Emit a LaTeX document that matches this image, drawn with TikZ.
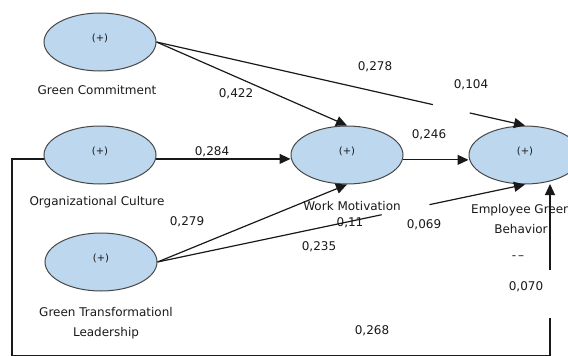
\documentclass[tikz,border=0pt]{standalone}
\usepackage{fontspec}
\setmainfont{DejaVu Sans}
\usetikzlibrary{positioning,arrows.meta,shapes.geometric,calc}
\definecolor{latentfill}{RGB}{189,215,238}
\definecolor{ink}{RGB}{25,25,25}

\begin{document}
\begin{tikzpicture}[
    x=1pt, y=-1pt,
    latent/.style={ellipse, draw=ink!80, line width=1pt, fill=latentfill, minimum width=112pt, minimum height=58pt, inner sep=0pt, text depth=8pt, font=\fontsize{10}{12}\selectfont, text=ink},
    latname/.style={inner sep=0pt, align=center, font=\fontsize{12}{19.5}\selectfont, text=ink},
    coef/.style={inner sep=0pt, font=\fontsize{12}{14}\selectfont, text=ink},
    arrow/.style={-{Triangle[length=11pt, width=10pt]}, line width=1.2pt, draw=ink},
    link/.style={line width=1.2pt, draw=ink}
]
\useasboundingbox (0,0) rectangle (568,356);
\clip (0,0) rectangle (568,356);

% Constructs
\node[latent] (gc) at (100,42) {(+)};
\node[latent] (oc) at (100,155) {(+)};
\node[latent] (gtl) at (101,262) {(+)};
\node[latent] (wm) at (347,155) {(+)};
\node[latent] (egb) at (525,155) {(+)};

% Construct names
\node[latname, below=14pt of gc, xshift=-3pt] (gcname) {Green Commitment};
\node[latname, below=12pt of oc, xshift=-3pt] (ocname) {Organizational Culture};
\node[latname, below=16pt of gtl, xshift=5pt] (gtlname) {Green Transformationl\\Leadership};
\node[latname, below=17pt of wm, xshift=5pt] (wmname) {Work Motivation};
\node[latname, below=20pt of egb, xshift=-4pt] (egbname) {Employee Green\\Behavior};

% Path coefficients
\node[coef] (c278) at (375,67) {0,278};
\node[coef] (c104) at (471,85) {0,104};
\node[coef] (c422) at (236,94) {0,422};
\node[coef] (c284) at (212,152) {0,284};
\node[coef] (c246) at (429,135) {0,246};
\node[coef] (c279) at (187,222) {0,279};
\node[coef] (c011) at (350,223) {0,11};
\node[coef] (c069) at (424,225) {0,069};
\node[coef] (c235) at (319,247) {0,235};
\node[coef] (cdash) at (518,258) {-\,–};
\node[coef] (c070) at (526,287) {0,070};
\node[coef] (c268) at (372,331) {0,268};

% Gaps in the long paths
\coordinate (gcegbA) at ($(gc.east)!0.75!(egb.north)$);
\coordinate (gcegbB) at ($(gc.east)!0.85!(egb.north)$);
\coordinate (gtlegbA) at ($(gtl.east)!0.61!(egb.south)$);
\coordinate (gtlegbB) at ($(gtl.east)!0.74!(egb.south)$);
\coordinate (loopA) at (12,355.5);
\coordinate (loopB) at (550,355.5);
\coordinate (loopC) at (550,318);
\coordinate (loopD) at (550,270);

% Arrows
\draw[arrow] (gc.east) -- (wm.north);
\draw[link] (gc.east) -- (gcegbA);
\draw[arrow] (gcegbB) -- (egb.north);
\draw[arrow] (oc.-4) -- (oc.-4 -| wm.west);
\draw[arrow] (wm.-5) -- (wm.-5 -| egb.west);
\draw[arrow] (gtl.east) -- (wm.south);
\draw[link] (gtl.east) -- (gtlegbA);
\draw[arrow] (gtlegbB) -- (egb.south);
\draw[link] (oc.184) -| (loopA) -- (loopB) -- (loopC);
\draw[arrow] (loopD) -- ++(0,-86);

\end{tikzpicture}
\end{document}
